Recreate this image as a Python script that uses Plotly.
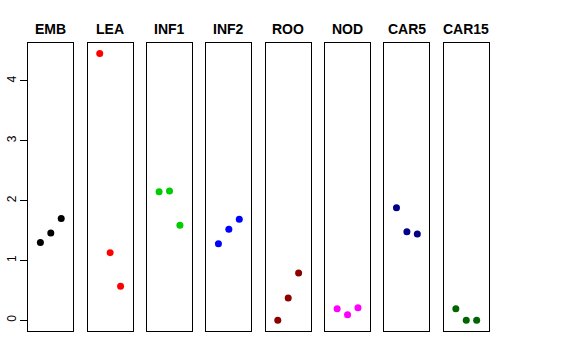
import plotly.graph_objects as go

categories = ["EMB", "LEA", "INF1", "INF2", "ROO", "NOD", "CAR5", "CAR15"]
replicates = [1, 2, 3]
values = {
    "EMB": [1.30, 1.46, 1.70],
    "LEA": [4.46, 1.13, 0.57],
    "INF1": [2.15, 2.16, 1.59],
    "INF2": [1.28, 1.52, 1.69],
    "ROO": [0.00, 0.37, 0.79],
    "NOD": [0.19, 0.09, 0.21],
    "CAR5": [1.88, 1.48, 1.44],
    "CAR15": [0.19, 0.00, 0.00],
}
colors = ["#000000", "#FF0000", "#00CD00", "#0000FF", "#8B0000", "#FF00FF", "#00008B", "#006400"]
y_ticks = [0, 1, 2, 3, 4]

W, H = 576, 360
left0, step, width = 28.3, 59.35, 45.0
top_px, bot_px = 43.3, 331.0

fig = go.Figure()
layout = dict(
    width=W, height=H, margin=dict(l=0, r=0, t=0, b=0, autoexpand=False),
    plot_bgcolor="white", paper_bgcolor="white", showlegend=False,
    font=dict(family="Liberation Sans, Arial, sans-serif", color="black"),
)
annotations = []
for i, cat in enumerate(categories):
    n = "" if i == 0 else str(i + 1)
    fig.add_trace(go.Scatter(
        x=replicates, y=values[cat], mode="markers",
        marker=dict(color=colors[i], size=7, line=dict(width=0)),
        xaxis="x" + n, yaxis="y" + n,
    ))
    l = left0 + i * step
    layout["xaxis" + n] = dict(
        domain=[l / W, (l + width) / W], range=[-0.16, 4.16],
        showgrid=False, zeroline=False, showticklabels=False, ticks="",
        showline=True, linecolor="black", linewidth=1, mirror=True,
        anchor="y" + n, automargin=False,
    )
    ya = dict(
        domain=[1 - bot_px / H, 1 - top_px / H], range=[-0.18, 4.63],
        showgrid=False, zeroline=False,
        showline=True, linecolor="black", linewidth=1, mirror=True,
        anchor="x" + n, automargin=False,
    )
    if i == 0:
        ya.update(tickvals=y_ticks, ticktext=[str(t) for t in y_ticks],
                  ticks="outside", ticklen=7, tickcolor="black",
                  tickangle=-90, tickfont=dict(size=12, color="black"))
    else:
        ya.update(showticklabels=False, ticks="")
    layout["yaxis" + n] = ya
    annotations.append(dict(
        text="<b>" + cat + "</b>", x=(l + width / 2) / W, y=1 - 29.3 / H,
        xref="paper", yref="paper", showarrow=False,
        xanchor="center", yanchor="middle", font=dict(size=14, color="black"),
    ))
layout["annotations"] = annotations
fig.update_layout(**layout)
fig.write_html("out.html", config={"displayModeBar": False},
               post_script="document.body.style.margin='0';")
